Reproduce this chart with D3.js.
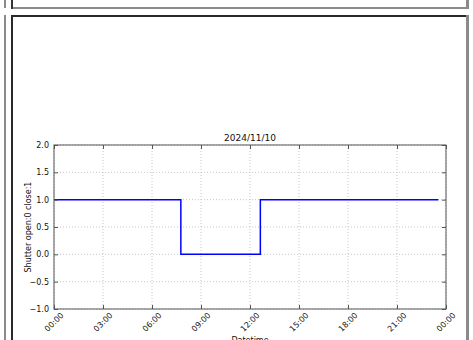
<!DOCTYPE html>
<html>
<head>
<meta charset="utf-8">
<script src="https://cdn.jsdelivr.net/npm/d3@7"></script>
<style>
  html, body { margin: 0; padding: 0; background: #fff; overflow: hidden; }
  svg { display: block; font-family: "DejaVu Sans", sans-serif; }
</style>
</head>
<body>
<svg id="chart" width="473" height="340"></svg>
<script>
// Shutter state log for one day (open:0, close:1)
const dayLabel = "2024/11/10";
const stateTimes = ["2024-11-10T00:00", "2024-11-10T07:46", "2024-11-10T12:38", "2024-11-10T23:32"];
const stateValues = [1, 0, 1, 1];
const yTicks = [-1.0, -0.5, 0.0, 0.5, 1.0, 1.5, 2.0];
const xTickHours = [0, 3, 6, 9, 12, 15, 18, 21, 24];

const parse = d3.timeParse("%Y-%m-%dT%H:%M");
const series = stateTimes.map((t, i) => ({ t: parse(t), v: stateValues[i] }));
const dayStart = parse("2024-11-10T00:00");
const dayEnd = d3.timeDay.offset(dayStart, 1);

const svg = d3.select("#chart");

// window panel frame
const frame = svg.append("g");
frame.append("rect").attr("x", 4).attr("y", 0).attr("width", 2).attr("height", 8).attr("fill", "#8a8a8a");
frame.append("rect").attr("x", 4).attr("y", 15).attr("width", 2).attr("height", 325).attr("fill", "#8a8a8a");
frame.append("rect").attr("x", 11).attr("y", 0).attr("width", 2).attr("height", 9).attr("fill", "#333");
frame.append("rect").attr("x", 11).attr("y", 15).attr("width", 2).attr("height", 325).attr("fill", "#2a2a2a");
frame.append("rect").attr("x", 13).attr("y", 7).attr("width", 453).attr("height", 2).attr("fill", "#8a8a8a");
frame.append("rect").attr("x", 13).attr("y", 15).attr("width", 453).attr("height", 2).attr("fill", "#2a2a2a");
frame.append("rect").attr("x", 466).attr("y", 0).attr("width", 3).attr("height", 9).attr("fill", "#8a8a8a");
frame.append("rect").attr("x", 466).attr("y", 15).attr("width", 3).attr("height", 325).attr("fill", "#8a8a8a");

const m = { left: 54, right: 446, top: 145, bottom: 309 };
const x = d3.scaleTime().domain([dayStart, dayEnd]).range([m.left, m.right]);
const y = d3.scaleLinear().domain([-1, 2]).range([m.bottom, m.top]);
const xTicks = xTickHours.map(h => d3.timeHour.offset(dayStart, h));
const fmt = d3.timeFormat("%H:%M");

// grid
const grid = svg.append("g").attr("stroke", "#b8b8b8").attr("stroke-width", 0.8).attr("stroke-dasharray", "1,2");
xTicks.forEach(t => grid.append("line").attr("x1", x(t)).attr("x2", x(t)).attr("y1", m.top).attr("y2", m.bottom));
yTicks.forEach(v => grid.append("line").attr("x1", m.left).attr("x2", m.right).attr("y1", y(v)).attr("y2", y(v)));

// data line
const line = d3.line().x(d => x(d.t)).y(d => y(d.v)).curve(d3.curveStepAfter);
svg.append("path").datum(series).attr("d", line)
  .attr("fill", "none").attr("stroke", "#0000ff").attr("stroke-width", 1.5);

// axes with inward ticks on all four sides
const axL = d3.axisLeft(y).tickValues(yTicks).tickFormat(d3.format(".1f")).tickSizeInner(-4).tickSizeOuter(0).tickPadding(5);
const axR = d3.axisRight(y).tickValues(yTicks).tickFormat("").tickSizeInner(-4).tickSizeOuter(0);
const axB = d3.axisBottom(x).tickValues(xTicks).tickFormat("").tickSizeInner(-4).tickSizeOuter(0);
const axT = d3.axisTop(x).tickValues(xTicks).tickFormat("").tickSizeInner(-4).tickSizeOuter(0);

function styleAxis(g) {
  g.select(".domain").remove();
  g.selectAll(".tick line").attr("stroke", "#555");
  g.selectAll("text").attr("fill", "#111").style("font-size", "8px").style("font-family", "DejaVu Sans, sans-serif");
}
svg.append("g").attr("transform", `translate(${m.left},0)`).call(axL).call(styleAxis)
  .selectAll("text").text(d => d3.format(".1f")(d).replace("-", "\u2212"));
svg.append("g").attr("transform", `translate(${m.right},0)`).call(axR).call(styleAxis);
svg.append("g").attr("transform", `translate(0,${m.bottom})`).call(axB).call(styleAxis);
svg.append("g").attr("transform", `translate(0,${m.top})`).call(axT).call(styleAxis);

// rotated x tick labels
svg.append("g").selectAll("text").data(xTicks).join("text")
  .attr("transform", d => `translate(${x(d)},${m.bottom + 13}) rotate(-45)`)
  .attr("text-anchor", "middle").attr("dy", "0.35em")
  .attr("fill", "#111").style("font-size", "8px")
  .text(d => fmt(d));

// plot frame
svg.append("rect").attr("x", m.left).attr("y", m.top)
  .attr("width", m.right - m.left).attr("height", m.bottom - m.top)
  .attr("fill", "none").attr("stroke", "#555").attr("stroke-width", 1);

// title and axis labels
svg.append("text").attr("x", (m.left + m.right) / 2).attr("y", m.top - 4)
  .attr("text-anchor", "middle").attr("fill", "#111").style("font-size", "9px").text(dayLabel);
svg.append("text").attr("transform", `translate(31,${(m.top + m.bottom) / 2}) rotate(-90)`)
  .attr("text-anchor", "middle").attr("fill", "#111").style("font-size", "8px").text("Shutter open:0 close:1");
svg.append("text").attr("x", (m.left + m.right) / 2).attr("y", 343)
  .attr("text-anchor", "middle").attr("fill", "#111").style("font-size", "8px").text("Datetime");
</script>
</body>
</html>
